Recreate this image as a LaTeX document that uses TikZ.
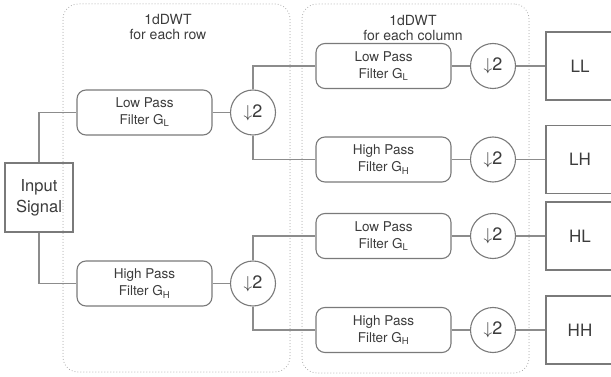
\documentclass[tikz,border=0pt]{standalone}
\usepackage{fontspec}
\setmainfont{TeX Gyre Heros}
\definecolor{edge}{HTML}{7A7A7A}
\definecolor{wirec}{HTML}{8C8C8C}
\definecolor{dotc}{HTML}{9A9A9A}
\definecolor{txt}{HTML}{3C3C3C}
\begin{document}
\begin{tikzpicture}[x=1pt,y=-1pt,
  every node/.style={text=txt, font=\fontsize{13.5}{17}\selectfont, align=center, inner sep=0pt},
  filt/.style={draw=edge, line width=1.1pt, rounded corners=9pt, minimum width=135pt, minimum height=45pt},
  down/.style={draw=edge, line width=1.1pt, circle, minimum size=45pt, font=\fontsize{18}{20}\selectfont},
  outb/.style={draw=edge, line width=1.2pt, minimum width=68pt, minimum height=68pt, font=\fontsize{17}{19}\selectfont},
  inb/.style={draw=edge, line width=1.2pt, minimum width=68pt, minimum height=69pt, font=\fontsize{16.5}{21}\selectfont},
  group/.style={draw=dotc, line width=1pt, line cap=round, dash pattern=on 0pt off 3pt, rounded corners=15pt},
  title/.style={font=\fontsize{14}{15}\selectfont},
  wire/.style={draw=wirec, line width=1.2pt},
  wirethick/.style={draw=wirec, line width=1.8pt}]
\useasboundingbox (0,0) rectangle (611,377);
\clip (0,0) rectangle (611,377);
% groups
\node[group, minimum width=227pt, minimum height=368pt] (g1) at (176.5,188) {};
\node[group, minimum width=227pt, minimum height=369pt] (g2) at (415.5,188.5) {};
\node[title] (t1) at (168,27) {1dDWT\\for each row};
\node[title] (t2) at (413,28) {1dDWT\\for each column};
% input
\node[inb] (in) at (39,197.5) {Input\\Signal};
% row filters
\node[filt] (lp1) at (144.5,112.5) {Low Pass\\Filter G\textsubscript{L}};
\node[filt] (hp1) at (144.5,283.5) {High Pass\\Filter G\textsubscript{H}};
\node[down] (d1) at (253,112.5) {$\downarrow$2};
\node[down] (d2) at (253,283.5) {$\downarrow$2};
% column filters
\node[filt] (lpa) at (383.5,66) {Low Pass\\Filter G\textsubscript{L}};
\node[filt] (hpa) at (383.5,159.5) {High Pass\\Filter G\textsubscript{H}};
\node[filt] (lpb) at (383.5,236) {Low Pass\\Filter G\textsubscript{L}};
\node[filt] (hpb) at (383.5,330) {High Pass\\Filter G\textsubscript{H}};
\node[down] (da) at (493,66) {$\downarrow$2};
\node[down] (db) at (493,159.5) {$\downarrow$2};
\node[down] (dc) at (493,236) {$\downarrow$2};
\node[down] (dd) at (493,330) {$\downarrow$2};
% outputs
\node[outb] (ll) at (580,66) {LL};
\node[outb] (lh) at (580,159.5) {LH};
\node[outb] (hl) at (580,236) {HL};
\node[outb] (hh) at (580,330) {HH};
% connectors
\draw[wire] (in.north) |- (lp1.west);
\draw[wire] (in.south) |- (hp1.west);
\draw[wire] (lp1) -- (d1);
\draw[wirethick] (hp1) -- (d2);
\draw[wire] (d1.north) |- (lpa.west);
\draw[wire] (d1.south) |- (hpa.west);
\draw[wire] (d2.north) |- (lpb.west);
\draw[wirethick] (d2.south) |- (hpb.west);
\draw[wire] (lpa) -- (da);
\draw[wire] (hpa) -- (db);
\draw[wire] (lpb) -- (dc);
\draw[wire] (hpb) -- (dd);
\draw[wirethick] (da) -- (ll);
\draw[wirethick] (db) -- (lh);
\draw[wire] (dc) -- (hl);
\draw[wire] (dd) -- (hh);
\end{tikzpicture}
\end{document}
